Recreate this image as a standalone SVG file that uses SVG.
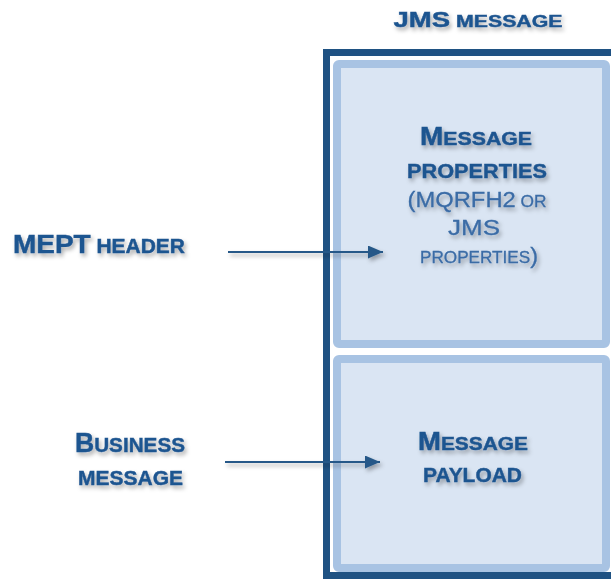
<svg xmlns="http://www.w3.org/2000/svg" width="611" height="579" viewBox="0 0 611 579">
  <style>
    .b { font-family: "Liberation Sans", Arial, sans-serif; font-weight: bold; fill: #1f5590; stroke: #1f5590; stroke-width: 0.45; }
    .r { font-family: "Liberation Sans", Arial, sans-serif; font-weight: normal; fill: #3b6ca6; stroke: #3b6ca6; stroke-width: 0.3; }
    .frame { fill: none; stroke: #1f5283; stroke-width: 7; }
    .part { fill: #dae5f3; stroke: #a8c3e3; stroke-width: 8; }
    .conn { stroke: #265888; stroke-width: 2.2; fill: none; }
  </style>
  <defs>
    <filter id="sh" x="-20%" y="-30%" width="140%" height="170%">
      <feDropShadow dx="2" dy="3" stdDeviation="2" flood-color="#000" flood-opacity="0.33"/>
    </filter>
    <marker id="ah" markerUnits="userSpaceOnUse" markerWidth="16" markerHeight="14" refX="15" refY="6.5" orient="auto">
      <path d="M0,0 L15,6.5 L0,13 Z" fill="#265888"/>
    </marker>
  </defs>
  <rect width="611" height="579" fill="#ffffff"/>

  <g id="jms-message">
    <rect class="frame" x="326.5" y="52.5" width="300" height="523"/>
    <text class="b" x="478" y="27" text-anchor="middle" textLength="169" lengthAdjust="spacingAndGlyphs" filter="url(#sh)"><tspan font-size="22">JMS</tspan><tspan font-size="17"> MESSAGE</tspan></text>
  </g>

  <g id="message-properties">
    <rect class="part" x="337" y="64" width="269" height="280" rx="2"/>
    <g filter="url(#sh)">
      <text class="b" x="476" y="145" text-anchor="middle" textLength="112" lengthAdjust="spacingAndGlyphs"><tspan font-size="25">M</tspan><tspan font-size="19">ESSAGE</tspan></text>
      <text class="b" x="477" y="178" text-anchor="middle" font-size="21" textLength="140" lengthAdjust="spacingAndGlyphs">PROPERTIES</text>
      <text class="r" x="477" y="207" text-anchor="middle" textLength="139" lengthAdjust="spacingAndGlyphs"><tspan font-size="22">(MQRFH2</tspan><tspan font-size="16"> OR</tspan></text>
      <text class="r" x="474" y="235" text-anchor="middle" font-size="22" textLength="52" lengthAdjust="spacingAndGlyphs">JMS</text>
      <text class="r" x="479" y="263" text-anchor="middle" textLength="118" lengthAdjust="spacingAndGlyphs"><tspan font-size="16">PROPERTIES</tspan><tspan font-size="22">)</tspan></text>
    </g>
  </g>

  <g id="message-payload">
    <rect class="part" x="337" y="359" width="269" height="209" rx="2"/>
    <g filter="url(#sh)">
      <text class="b" x="473" y="450" text-anchor="middle" textLength="110" lengthAdjust="spacingAndGlyphs"><tspan font-size="25">M</tspan><tspan font-size="19">ESSAGE</tspan></text>
      <text class="b" x="472.5" y="482" text-anchor="middle" font-size="21" textLength="99" lengthAdjust="spacingAndGlyphs">PAYLOAD</text>
    </g>
  </g>

  <g id="mept-header" filter="url(#sh)">
    <text class="b" x="13" y="253" textLength="172" lengthAdjust="spacingAndGlyphs"><tspan font-size="26">MEPT</tspan><tspan font-size="19.5"> HEADER</tspan></text>
  </g>

  <g id="business-message" filter="url(#sh)">
    <text class="b" x="130" y="452" text-anchor="middle" textLength="110" lengthAdjust="spacingAndGlyphs"><tspan font-size="27">B</tspan><tspan font-size="21">USINESS</tspan></text>
    <text class="b" x="130.5" y="485" text-anchor="middle" font-size="21" textLength="105" lengthAdjust="spacingAndGlyphs">MESSAGE</text>
  </g>

  <g id="connectors" filter="url(#sh)">
    <line class="conn" x1="228" y1="252" x2="383" y2="252" marker-end="url(#ah)"/>
    <line class="conn" x1="225" y1="462" x2="380" y2="462" marker-end="url(#ah)"/>
  </g>
</svg>
